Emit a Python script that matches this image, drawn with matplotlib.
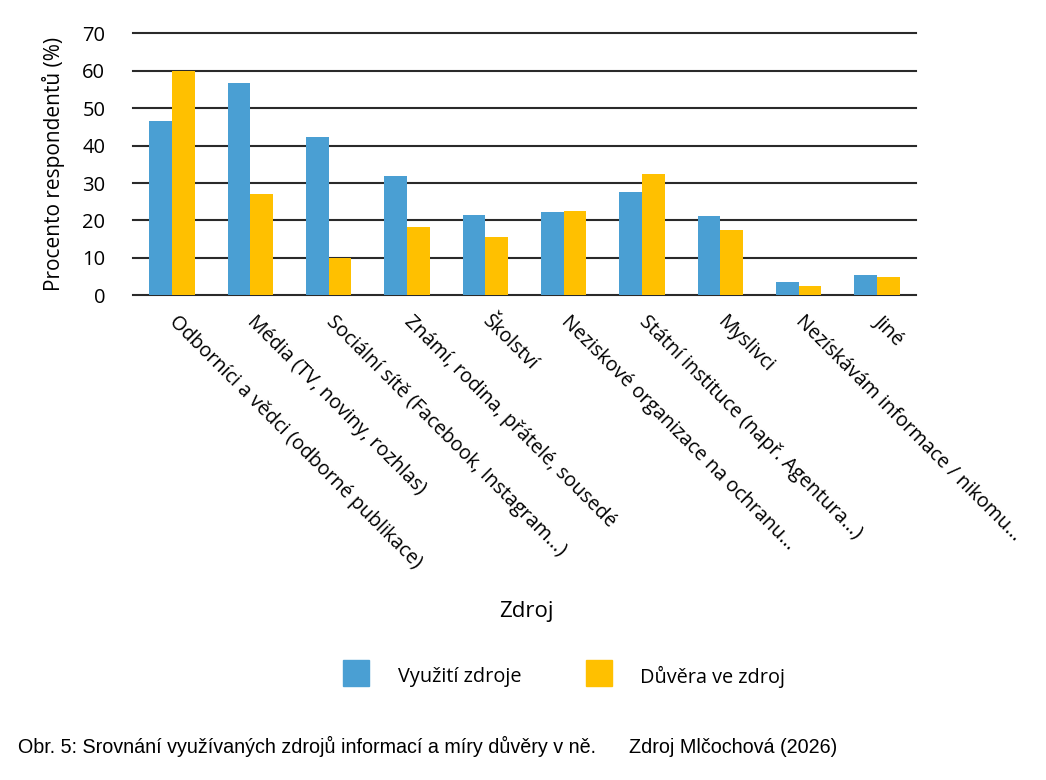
import numpy as np
import matplotlib
matplotlib.use("Agg")
import matplotlib.pyplot as plt
from matplotlib.patches import Rectangle

# data
zdroje = [
    "Odborníci a vědci (odborné publikace)",
    "Média (TV, noviny, rozhlas)",
    "Sociální sítě (Facebook, Instagram…)",
    "Známí, rodina, přátelé, sousedé",
    "Školství",
    "Neziskové organizace na ochranu…",
    "Státní instituce (např. Agentura…)",
    "Myslivci",
    "Nezískávám informace / nikomu…",
    "Jiné",
]
vyuziti = [46.6, 56.8, 42.3, 31.9, 21.5, 22.3, 27.7, 21.3, 3.6, 5.4]
duvera = [59.9, 27.1, 9.9, 18.3, 15.5, 22.6, 32.5, 17.5, 2.4, 4.9]
y_ticks = [0, 10, 20, 30, 40, 50, 60, 70]

modra = "#4a9fd3"
zluta = "#ffc000"

plt.rcParams['font.family'] = ['Open Sans', 'DejaVu Sans']

fig = plt.figure(figsize=(10.46, 7.8), dpi=100)
ax = fig.add_axes([0.1272, 0.6214, 0.7485, 0.3359])

x = np.arange(len(zdroje))
w = 0.29
ax.bar(x - w / 2, vyuziti, w, color=modra, zorder=3)
ax.bar(x + w / 2, duvera, w, color=zluta, zorder=3)

ax.set_xlim(-0.5, len(zdroje) - 0.5)
ax.set_ylim(0, 70)
ax.set_yticks(y_ticks)
ax.yaxis.grid(True, color="#2a2a2a", linewidth=1.5, zorder=1)
for gl in ax.get_ygridlines():
    gl.set_clip_on(False)
ax.tick_params(axis="y", length=0, labelsize=14.5, pad=20)
ax.tick_params(axis="x", length=0)
for s in ax.spines.values():
    s.set_visible(False)
ax.set_ylabel("Procento respondentů (%)", fontsize=15, labelpad=12)

ax.set_xticks(x)
ax.set_xticklabels(zdroje, rotation=-45, rotation_mode="anchor",
                   ha="left", va="center", fontsize=14.2)
ax.tick_params(axis="x", pad=17)

fig.text(0.503, 0.216, "Zdroj", fontsize=16, ha="center", va="center")

# legend drawn by hand to match the spacing
fig.patches.append(Rectangle((343 / 1046, 1 - 686 / 780), 26 / 1046, 26 / 780,
                             transform=fig.transFigure, color=modra))
fig.patches.append(Rectangle((586 / 1046, 1 - 686 / 780), 26 / 1046, 26 / 780,
                             transform=fig.transFigure, color=zluta))
fig.text(398 / 1046, 1 - 677 / 780, "Využití zdroje", fontsize=14.3, va="center")
fig.text(640 / 1046, 1 - 677 / 780, "Důvěra ve zdroj", fontsize=14.3, va="center")

fig.text(18 / 1046, 1 - 746 / 780,
         "Obr. 5: Srovnání využívaných zdrojů informací a míry důvěry v ně.      Zdroj Mlčochová (2026)",
         fontsize=14.2, va="center", family=['Liberation Sans', 'DejaVu Sans'])

fig.savefig("out.png", dpi=100)
